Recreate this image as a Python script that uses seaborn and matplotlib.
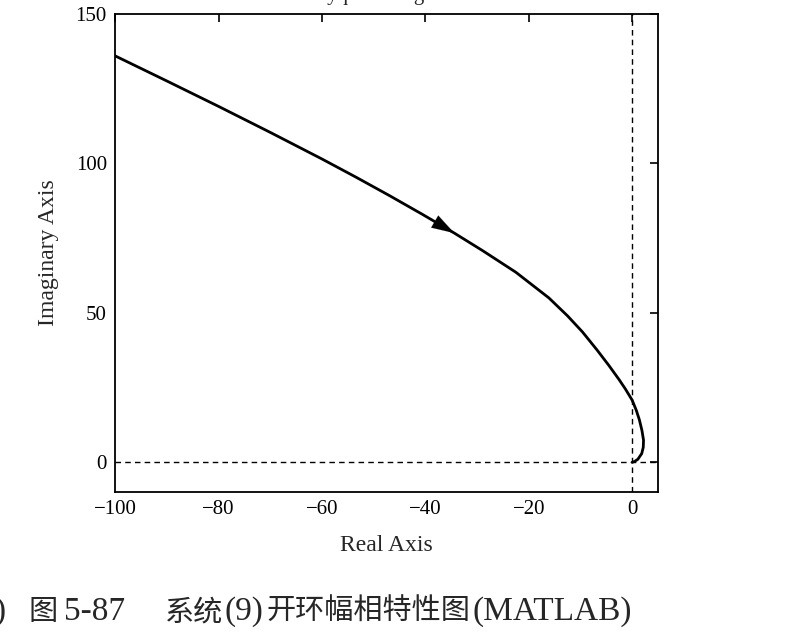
import numpy as np
import pandas as pd
import seaborn as sns
import matplotlib.pyplot as plt

# Nyquist curve (real part, imaginary part), from w -> 0+ to w -> inf
real_part = [-100, -90, -80, -70, -60, -53.4, -47, -40.5, -34.4, -28.9, -22.5,
             -16.1, -12.5, -9.6, -6.8, -4.5, -2.5, -1.3, 0, 0.8, 1.4, 1.9, 2.2,
             2.15, 1.85, 1.1, 0.45, 0]
imag_part = [136.0, 127.6, 119.1, 110.4, 101.5, 95.4, 89.3, 82.9, 76.7, 70.8, 63.6,
             55.0, 49.0, 43.6, 37.6, 32.4, 27.6, 24.5, 20.8, 17.4, 14.2, 10.6, 7.4,
             5.0, 2.9, 1.0, 0.25, 0]

x_ticks = [-100, -80, -60, -40, -20, 0]
y_ticks = [0, 50, 100, 150]

df = pd.DataFrame({"Real Axis": real_part, "Imaginary Axis": imag_part})

sns.set_style("white")
plt.rcParams['font.family'] = ['Liberation Serif', 'Noto Sans CJK SC']
plt.rcParams['axes.linewidth'] = 1.3

fig = plt.figure(figsize=(8, 6.4), dpi=100)
ax = fig.add_axes([0.144, 0.231, 0.6785, 0.747])

ax.axhline(0, color='black', ls=(0, (4, 3)), lw=1.0, zorder=1)
ax.axvline(0, color='black', ls=(0, (4, 3)), lw=1.0, zorder=1)

sns.lineplot(data=df, x="Real Axis", y="Imaginary Axis", sort=False, estimator=None,
             color='black', lw=2.0, ax=ax, zorder=2)

# direction arrow on the curve
ax.annotate("", xy=(real_part[8], imag_part[8]), xytext=(real_part[7], imag_part[7]),
            arrowprops=dict(arrowstyle='-|>,head_length=0.9,head_width=0.28',
                            color='black', lw=0.1, mutation_scale=18,
                            shrinkA=0, shrinkB=0))

ax.set_xlim(-100, 5)
ax.set_ylim(-10, 150)
ax.set_xticks(x_ticks)
ax.set_yticks(y_ticks)
ax.set_xticklabels(["\u2212100", "\u221280", "\u221260", "\u221240", "\u221220", "0"])
ax.tick_params(direction='in', length=6, width=1.2, top=True, right=True,
               labelsize=15, pad=6, colors='black')
for s in ax.spines.values():
    s.set_color('black')
ax.set_xlabel("Real Axis", fontsize=17, labelpad=11)
ax.set_ylabel("Imaginary Axis", fontsize=17, labelpad=12)

# title cut off by the top edge in the scan
fig.text(0.48, 1.0, "Nyquist Diagram", fontsize=15, ha='center', va='baseline')

# caption, pieces placed as in the scan
cjk = ['Noto Sans CJK SC', 'DejaVu Sans']
lat = ['Liberation Serif']
yb = 0.031
fig.text(6 / 800, yb, ")", fontsize=24, family=lat, ha='right', va='baseline')
fig.text(28 / 800, yb, "图", fontsize=21, family=cjk, ha='left', va='baseline')
fig.text(64 / 800, yb, "5-87", fontsize=24, family=lat, ha='left', va='baseline')
fig.text(165 / 800, yb, "系统", fontsize=21, family=cjk, ha='left', va='baseline')
fig.text(224 / 800, yb, "(9)", fontsize=24, family=lat, ha='left', va='baseline')
fig.text(266 / 800, yb, "开环幅相特性图", fontsize=21, family=cjk, ha='left', va='baseline')
fig.text(472 / 800, yb, "(MATLAB)", fontsize=24, family=lat, ha='left', va='baseline')

fig.savefig("out.png", dpi=100)
